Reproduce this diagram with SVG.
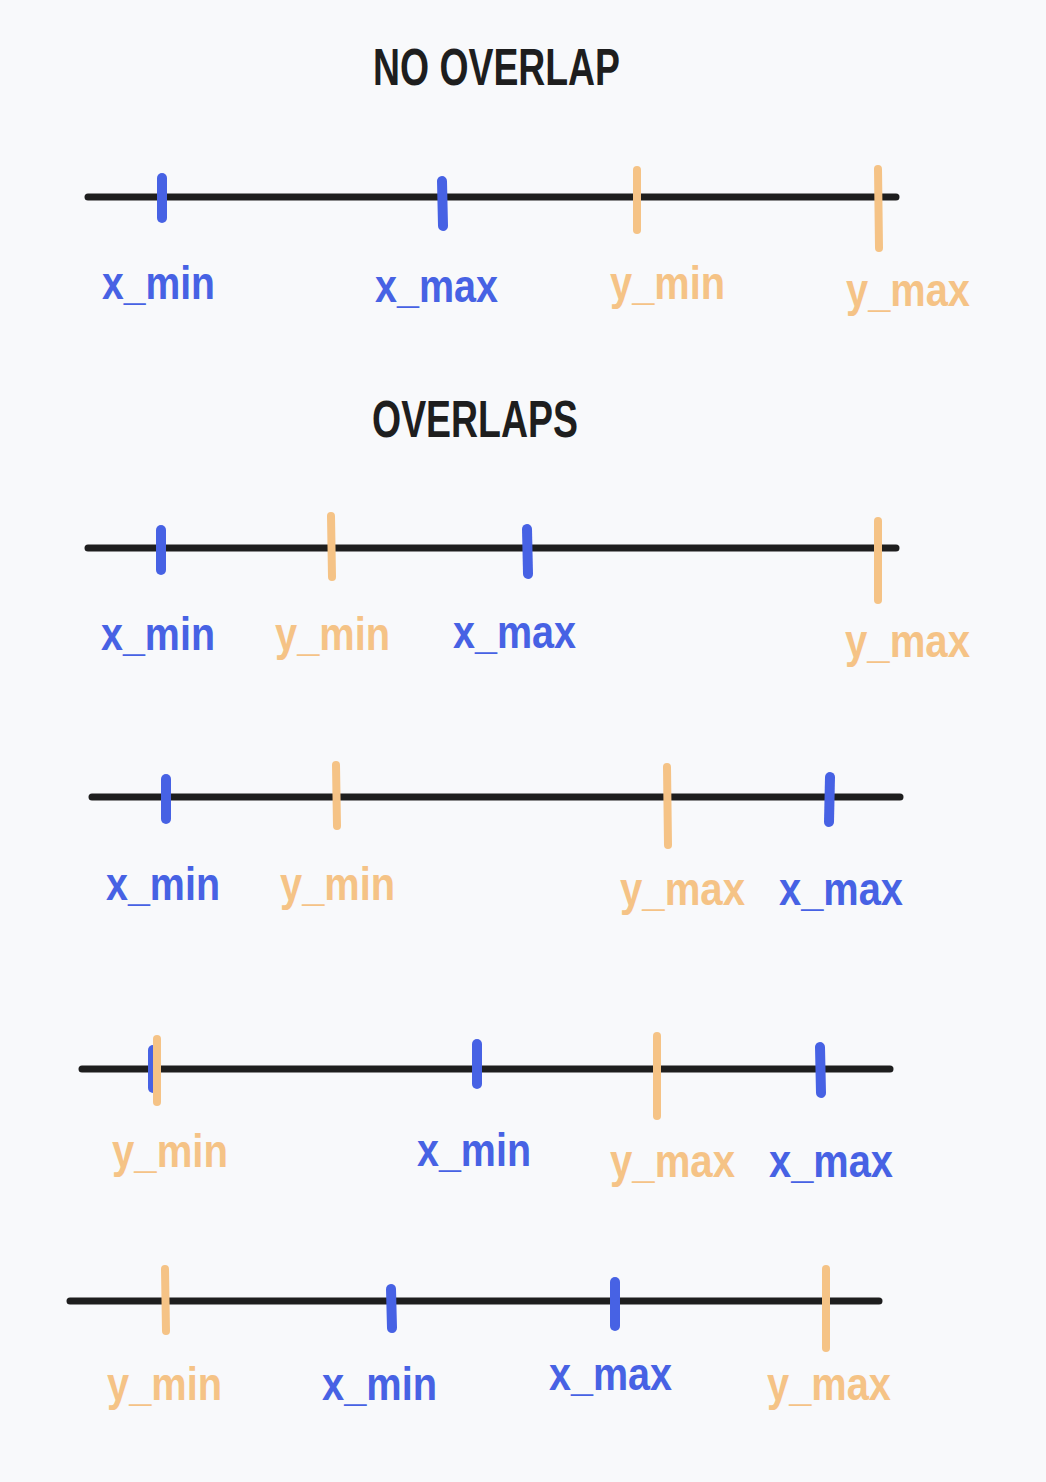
<svg xmlns="http://www.w3.org/2000/svg" width="1046" height="1482" viewBox="0 0 1046 1482">
<style>
.axis{stroke:#1e1e1e;stroke-width:7;stroke-linecap:round;fill:none}
.tx{stroke:#4762e4;stroke-width:10;stroke-linecap:round;fill:none}
.ty{stroke:#f5c386;stroke-width:8;stroke-linecap:round;fill:none}
.lbl{font-family:"Liberation Sans",Arial,sans-serif;font-weight:bold;font-size:46px}
.bx{fill:#4762e4}
.by{fill:#f5c386}
.title{font-family:"Liberation Sans",Arial,sans-serif;font-weight:bold;font-size:52px;fill:#1e1e1e}
</style>
<rect width="1046" height="1482" fill="#f8f9fb"/>

<g id="title-no-overlap"><text class="title" x="373" y="85" textLength="247" lengthAdjust="spacingAndGlyphs">NO OVERLAP</text></g>
<g id="title-overlaps"><text class="title" x="372" y="437" textLength="206" lengthAdjust="spacingAndGlyphs">OVERLAPS</text></g>

<g id="connectors">
<line class="axis" x1="88" y1="197" x2="896" y2="197"/>
<line class="axis" x1="88" y1="548" x2="896" y2="548"/>
<line class="axis" x1="92" y1="797" x2="900" y2="797"/>
<line class="axis" x1="82" y1="1069" x2="890" y2="1069"/>
<line class="axis" x1="70" y1="1301" x2="879" y2="1301"/>
</g>

<g id="row1">
<line class="tx" x1="162" y1="178" x2="162" y2="218"/>
<line class="tx" x1="442" y1="181" x2="443" y2="226"/>
<line class="ty" x1="637" y1="170" x2="637" y2="230"/>
<line class="ty" x1="878" y1="169" x2="879" y2="248"/>
<text class="lbl bx" x="102" y="299" textLength="113" lengthAdjust="spacingAndGlyphs">x_min</text>
<text class="lbl bx" x="375" y="302" textLength="123" lengthAdjust="spacingAndGlyphs">x_max</text>
<text class="lbl by" x="610" y="299" textLength="115" lengthAdjust="spacingAndGlyphs">y_min</text>
<text class="lbl by" x="846" y="306" textLength="124" lengthAdjust="spacingAndGlyphs">y_max</text>
</g>

<g id="row2">
<line class="tx" x1="161" y1="530" x2="161" y2="570"/>
<line class="ty" x1="331" y1="516" x2="332" y2="577"/>
<line class="tx" x1="527" y1="529" x2="528" y2="574"/>
<line class="ty" x1="878" y1="521" x2="878" y2="600"/>
<text class="lbl bx" x="101" y="650" textLength="114" lengthAdjust="spacingAndGlyphs">x_min</text>
<text class="lbl by" x="275" y="650" textLength="115" lengthAdjust="spacingAndGlyphs">y_min</text>
<text class="lbl bx" x="453" y="648" textLength="123" lengthAdjust="spacingAndGlyphs">x_max</text>
<text class="lbl by" x="845" y="657" textLength="125" lengthAdjust="spacingAndGlyphs">y_max</text>
</g>

<g id="row3">
<line class="tx" x1="166" y1="779" x2="166" y2="819"/>
<line class="ty" x1="336" y1="765" x2="337" y2="826"/>
<line class="ty" x1="667" y1="767" x2="668" y2="845"/>
<line class="tx" x1="830" y1="777" x2="829" y2="822"/>
<text class="lbl bx" x="106" y="900" textLength="114" lengthAdjust="spacingAndGlyphs">x_min</text>
<text class="lbl by" x="280" y="900" textLength="115" lengthAdjust="spacingAndGlyphs">y_min</text>
<text class="lbl by" x="620" y="905" textLength="125" lengthAdjust="spacingAndGlyphs">y_max</text>
<text class="lbl bx" x="779" y="905" textLength="124" lengthAdjust="spacingAndGlyphs">x_max</text>
</g>

<g id="row4">
<line class="tx" x1="153" y1="1050" x2="153" y2="1088"/>
<line class="ty" x1="157" y1="1039" x2="157" y2="1102"/>
<line class="tx" x1="477" y1="1044" x2="477" y2="1084"/>
<line class="ty" x1="657" y1="1036" x2="657" y2="1116"/>
<line class="tx" x1="820" y1="1047" x2="821" y2="1093"/>
<text class="lbl by" x="112" y="1167" textLength="116" lengthAdjust="spacingAndGlyphs">y_min</text>
<text class="lbl bx" x="417" y="1166" textLength="114" lengthAdjust="spacingAndGlyphs">x_min</text>
<text class="lbl by" x="610" y="1177" textLength="125" lengthAdjust="spacingAndGlyphs">y_max</text>
<text class="lbl bx" x="769" y="1177" textLength="124" lengthAdjust="spacingAndGlyphs">x_max</text>
</g>

<g id="row5">
<line class="ty" x1="165" y1="1269" x2="166" y2="1331"/>
<line class="tx" x1="391" y1="1289" x2="392" y2="1328"/>
<line class="tx" x1="615" y1="1282" x2="615" y2="1326"/>
<line class="ty" x1="826" y1="1269" x2="826" y2="1348"/>
<text class="lbl by" x="107" y="1400" textLength="115" lengthAdjust="spacingAndGlyphs">y_min</text>
<text class="lbl bx" x="322" y="1400" textLength="115" lengthAdjust="spacingAndGlyphs">x_min</text>
<text class="lbl bx" x="549" y="1390" textLength="123" lengthAdjust="spacingAndGlyphs">x_max</text>
<text class="lbl by" x="767" y="1400" textLength="124" lengthAdjust="spacingAndGlyphs">y_max</text>
</g>
</svg>
